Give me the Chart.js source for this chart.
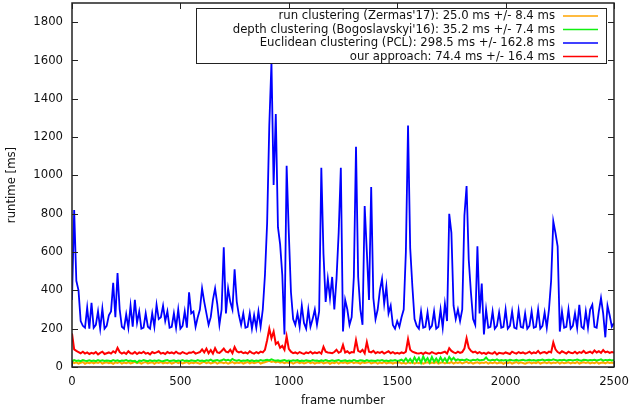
<!DOCTYPE html>
<html>
<head>
<meta charset="utf-8">
<script src="https://cdn.jsdelivr.net/npm/chart.js@4.4.1/dist/chart.umd.min.js"></script>
<style>
  html, body { margin: 0; padding: 0; background: #fff; }
</style>
</head>
<body>
<canvas id="runtimeChart" width="630" height="412"></canvas>
<script>
// one sample every 10 frames, frames 0..2500
const frameStep = 10;

const runClustering = [
  28, 20, 24, 18, 22, 26, 17, 23, 20, 25,
  19, 24, 21, 27, 18, 22, 25, 20, 23, 17,
  24, 21, 26, 18, 23, 20, 25, 19, 22, 27,
  20, 24, 18, 23, 26, 19, 22, 25, 17, 24,
  21, 26, 19, 23, 20, 25, 18, 22, 27, 20,
  24, 19, 22, 26, 18, 23, 20, 25, 21, 17,
  23, 27, 20, 24, 19, 22, 26, 18, 23, 25,
  20, 24, 17, 22, 26, 19, 23, 21, 25, 18,
  22, 26, 19, 24, 20, 23, 27, 18, 22, 25,
  28, 32, 26, 30, 24, 28, 22, 26, 20, 24,
  21, 25, 18, 23, 26, 20, 24, 19, 22, 27,
  20, 24, 18, 23, 21, 26, 19, 22, 25, 17,
  23, 20, 26, 18, 24, 21, 25, 19, 22, 27,
  20, 24, 22, 18, 25, 21, 23, 26, 19, 22,
  25, 18, 23, 20, 26, 19, 22, 24, 18, 23,
  21, 25, 19, 22, 17, 24, 20, 26, 18, 23,
  20, 24, 17, 22, 25, 19, 23, 20, 26, 18,
  22, 25, 19, 23, 20, 26, 18, 24, 21, 25,
  19, 23, 27, 20, 24, 18, 22, 25, 19, 23,
  21, 26, 18, 23, 20, 25, 19, 22, 24, 17,
  23, 20, 25, 18, 22, 26, 19, 24, 21, 17,
  22, 25, 19, 23, 20, 26, 18, 22, 24, 20,
  25, 19, 23, 21, 26, 18, 24, 20, 22, 25,
  19, 23, 20, 26, 18, 22, 25, 21, 24, 19,
  23, 20, 26, 18, 22, 24, 19, 25, 21, 23,
  20
];

const depthClustering = [
  30, 36, 32, 34, 30, 36, 33, 31, 35, 32,
  34, 30, 36, 32, 35, 31, 34, 33, 30, 36,
  32, 35, 30, 34, 33, 36, 31, 34, 30, 32,
  24, 34, 31, 36, 33, 30, 35, 32, 34, 31,
  35, 32, 30, 34, 36, 31, 33, 35, 30, 34,
  32, 36, 31, 34, 30, 35, 33, 31, 36, 32,
  34, 30, 35, 33, 38, 31, 34, 36, 32, 35,
  40, 34, 38, 32, 42, 35, 33, 36, 31, 34,
  33, 36, 31, 35, 30, 34, 32, 36, 33, 35,
  38, 34, 40, 36, 33, 35, 31, 34, 36, 32,
  34, 31, 35, 33, 36, 30, 34, 32, 35, 33,
  31, 36, 33, 34, 30, 35, 32, 36, 33, 31,
  35, 32, 34, 36, 31, 33, 35, 30, 34, 32,
  36, 33, 31, 35, 34, 30, 36, 32, 34, 33,
  31, 35, 33, 36, 32, 34, 30, 35, 33, 36,
  32, 34, 38, 30, 45, 28, 42, 25, 50, 30,
  48, 22, 55, 30, 46, 24, 52, 28, 44, 26,
  50, 30, 45, 27, 52, 36, 48, 34, 40, 36,
  38, 34, 40, 36, 33, 38, 35, 40, 34, 36,
  38, 50, 36, 34, 38, 35, 40, 33, 36, 34,
  36, 33, 38, 35, 34, 37, 33, 36, 38, 34,
  35, 38, 34, 36, 33, 37, 35, 39, 34, 36,
  38, 35, 40, 36, 34, 37, 35, 38, 33, 36,
  37, 34, 36, 39, 35, 33, 38, 36, 34, 37,
  35, 38, 34, 36, 40, 33, 37, 35, 38, 34,
  36
];

const euclideanPCL = [
  350, 820, 450, 400, 240, 215, 205, 310, 200, 335,
  205, 220, 290, 200, 305, 200, 215, 270, 290, 440,
  260, 490, 300, 210, 200, 275, 205, 320, 210, 350,
  230, 290, 200, 205, 280, 210, 200, 280, 210, 325,
  250, 260, 320, 240, 290, 205, 210, 280, 205, 300,
  200, 215, 290, 205, 390, 280, 290, 210, 260, 300,
  410, 340, 280, 220, 260, 350, 410, 330, 220, 300,
  625, 280, 410, 340, 300, 510, 340, 270, 220, 280,
  205, 210, 280, 200, 270, 205, 290, 210, 300, 480,
  750, 1260, 1590, 950, 1320, 730, 640, 480, 170, 1050,
  700, 390, 250, 220, 280, 210, 320, 230, 200, 300,
  210, 250, 300, 220, 290, 1040, 590, 340, 460, 360,
  470, 300, 460, 700, 1040, 185, 350, 300, 220, 260,
  470, 1150, 470, 300, 220, 840, 600, 350, 940, 360,
  250, 300, 400, 460, 330, 420, 280, 320, 220, 200,
  240, 210, 260, 300, 600, 1260, 620, 420, 250, 215,
  200, 290, 205, 210, 285, 200, 215, 290, 200, 210,
  300, 205, 330, 240, 800, 700, 320, 250, 300, 240,
  300, 790, 945, 560, 390, 250, 220, 630, 280, 435,
  170, 300, 205, 210, 290, 200, 215, 285, 205, 210,
  300, 200, 215, 290, 205, 200, 295, 210, 205, 280,
  200, 215, 290, 205, 210, 300, 200, 215, 285, 205,
  300, 450, 760, 700, 630, 185, 290, 205, 210, 300,
  200, 215, 280, 205, 325, 210, 200, 290, 205, 300,
  325, 210, 205, 290, 360, 280, 155, 320, 270, 210,
  230
];

const ourApproach = [
  175, 92, 84, 78, 72, 80, 70, 76, 68, 74,
  70, 78, 66, 74, 80, 68, 72, 76, 70, 82,
  74, 100, 78, 70, 76, 68, 82, 72, 70, 78,
  68, 76, 72, 80, 70, 74, 66, 78, 72, 76,
  82, 70, 74, 68, 78, 72, 76, 70, 80, 72,
  70, 78, 72, 68, 76, 74, 80, 70, 74, 78,
  92, 76, 96, 72, 88, 70, 98, 76, 74, 84,
  96, 80, 76, 90, 72, 104, 82, 76, 80, 72,
  76, 70, 82, 74, 70, 78, 72, 80, 76, 90,
  140, 200, 150, 185, 120, 130, 100, 110, 90, 160,
  95, 80, 72, 76, 70, 78, 72, 68, 76, 72,
  80, 70, 76, 72, 78, 70, 105, 80, 76, 74,
  72, 78, 90, 74, 80, 115, 76, 82, 72, 78,
  76, 140, 84, 78, 90, 72, 130, 80, 76, 84,
  72, 78, 74, 80, 70, 76, 82, 72, 78, 70,
  74, 70, 76, 72, 80, 145, 90, 80, 76, 72,
  70, 74, 68, 76, 72, 70, 78, 72, 68, 74,
  72, 76, 80, 70, 98, 84, 76, 72, 80, 74,
  78, 96, 150, 100, 84, 76, 80, 72, 78, 70,
  74, 68, 76, 72, 70, 78, 66, 74, 72, 70,
  76, 72, 68, 80, 74, 70, 78, 72, 76, 70,
  74, 80, 70, 76, 72, 84, 70, 76, 78, 72,
  80, 76, 128, 92, 78, 72, 82, 76, 70, 80,
  74, 72, 80, 70, 78, 74, 84, 72, 76, 80,
  72, 86, 76, 82, 74, 88, 76, 80, 74, 78,
  76
];

const seriesLabels = [
  "run clustering (Zermas'17): 25.0 ms +/- 8.4 ms",
  "depth clustering (Bogoslavskyi'16): 35.2 ms +/- 7.4 ms",
  "Euclidean clustering (PCL): 298.5 ms +/- 162.8 ms",
  "our approach: 74.4 ms +/- 16.4 ms"
];
const seriesColors = ["#ffa500", "#11f011", "#0000ff", "#ff0000"];

const xTicks = [0, 500, 1000, 1500, 2000, 2500];
const yTicks = [0, 200, 400, 600, 800, 1000, 1200, 1400, 1600, 1800];

const FONT = "'DejaVu Sans', sans-serif";
const FONT_SIZE = 11.7;

function toPoints(values) {
  return values.map((v, i) => ({ x: i * frameStep, y: v }));
}

const allSeries = [runClustering, depthClustering, euclideanPCL, ourApproach];

// gnuplot style frame with inward ticks on all four sides + boxed key
const gnuplotFrame = {
  id: "gnuplotFrame",
  afterDatasetsDraw(chart) {
    const ctx = chart.ctx;
    const a = chart.chartArea;
    const xs = chart.scales.x, ys = chart.scales.y;
    ctx.save();
    ctx.strokeStyle = "#222";
    ctx.lineWidth = 1;
    ctx.beginPath();
    xTicks.forEach(t => {
      const px = Math.round(xs.getPixelForValue(t)) + 0.5;
      ctx.moveTo(px, a.bottom); ctx.lineTo(px, a.bottom - 6);
      ctx.moveTo(px, a.top); ctx.lineTo(px, a.top + 6);
    });
    yTicks.forEach(t => {
      const py = Math.round(ys.getPixelForValue(t)) + 0.5;
      ctx.moveTo(a.left, py); ctx.lineTo(a.left + 6, py);
      ctx.moveTo(a.right, py); ctx.lineTo(a.right - 6, py);
    });
    ctx.stroke();
    ctx.lineWidth = 1.5;
    ctx.strokeRect(a.left, a.top, a.right - a.left, a.bottom - a.top);

    // key
    const box = { x: 196.5, y: 8.5, w: 410, h: 55 };
    ctx.fillStyle = "#fff";
    ctx.fillRect(box.x, box.y, box.w, box.h);
    ctx.lineWidth = 1;
    ctx.strokeStyle = "#222";
    ctx.strokeRect(box.x, box.y, box.w, box.h);
    ctx.font = FONT_SIZE + "px " + FONT;
    ctx.textAlign = "right";
    ctx.textBaseline = "middle";
    const rows = [16, 29.5, 43, 56.5];
    seriesLabels.forEach((lbl, i) => {
      ctx.fillStyle = "#111";
      ctx.fillText(lbl, 555, rows[i]);
      ctx.strokeStyle = seriesColors[i];
      ctx.lineWidth = 1.5;
      ctx.beginPath();
      ctx.moveTo(563, rows[i]);
      ctx.lineTo(598, rows[i]);
      ctx.stroke();
    });
    ctx.restore();
  }
};

const ctx = document.getElementById("runtimeChart").getContext("2d");

new Chart(ctx, {
  type: "line",
  data: {
    datasets: allSeries.map((vals, i) => ({
      label: seriesLabels[i],
      data: toPoints(vals),
      borderColor: seriesColors[i],
      backgroundColor: seriesColors[i],
      borderWidth: i === 2 ? 1.8 : 2,
      pointRadius: 0,
      tension: 0,
      fill: false,
      order: 3 - i,
    })),
  },
  options: {
    responsive: false,
    animation: false,
    layout: { padding: { top: 3, right: 16, left: 0, bottom: 0 } },
    plugins: {
      legend: { display: false },
      tooltip: { enabled: false },
    },
    scales: {
      x: {
        type: "linear",
        min: 0,
        max: 2500,
        afterFit: (s) => { s.height = 45; s.paddingLeft = 0; s.paddingRight = 0; },
        afterBuildTicks: (s) => { s.ticks = xTicks.map(v => ({ value: v })); },
        ticks: {
          color: "#111", font: { family: FONT, size: FONT_SIZE }, padding: 8, maxRotation: 0,
          callback: (v) => String(v),
        },
        grid: { drawOnChartArea: false, drawTicks: false },
        border: { display: false },
        title: {
          display: true,
          text: "frame number",
          color: "#111",
          font: { family: FONT, size: FONT_SIZE },
          padding: { top: 4, bottom: 4 },
        },
      },
      y: {
        min: 0,
        max: 1900,
        afterFit: (s) => { s.width = 72; s.paddingTop = 0; s.paddingBottom = 0; },
        afterBuildTicks: (s) => { s.ticks = yTicks.map(v => ({ value: v })); },
        ticks: {
          color: "#111", font: { family: FONT, size: FONT_SIZE }, padding: 9,
          callback: (v) => String(v),
        },
        grid: { drawOnChartArea: false, drawTicks: false },
        border: { display: false },
        title: {
          display: true,
          text: "runtime [ms]",
          color: "#111",
          font: { family: FONT, size: FONT_SIZE },
          padding: { top: 5, bottom: 0 },
        },
      },
    },
  },
  plugins: [gnuplotFrame],
});
</script>
</body>
</html>
